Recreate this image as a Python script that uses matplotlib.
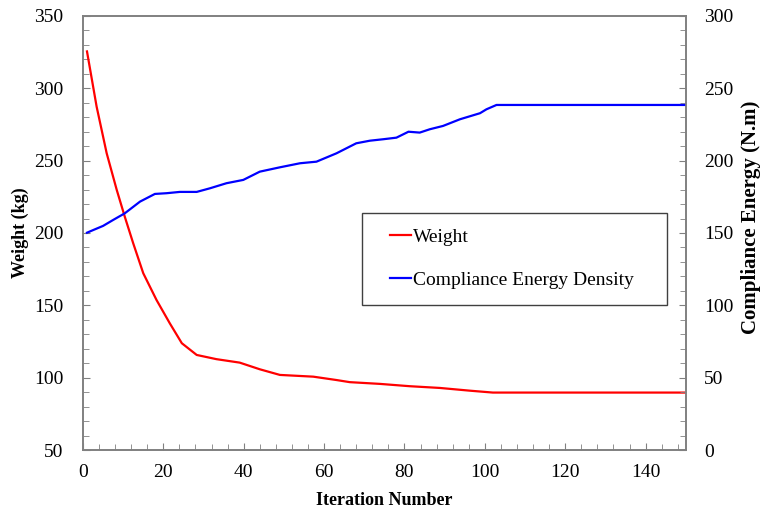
import matplotlib
matplotlib.use("Agg")
import matplotlib.pyplot as plt
from matplotlib.patches import Rectangle

# weight history (left axis, kg)
weight_iter = [1, 3.4, 5.9, 8.4, 10.4, 12.5, 15, 18.3, 21.6, 24.6, 28.3, 33.2, 39, 44, 49,
               57.3, 63, 66.4, 73.9, 81.3, 88.8, 96.3, 102, 150]
weight_kg = [325.5, 287.3, 255.1, 229.8, 211.3, 192.9, 172.2, 153.7, 137.6, 123.8, 115.7,
             112.8, 110.4, 105.8, 101.9, 100.7, 98.4, 96.9, 95.7, 94.1, 92.9, 91, 89.7, 89.7]

# compliance energy history (right axis, N.m)
energy_iter = [1, 2.6, 5, 7.5, 10.4, 14.2, 17.9, 20.8, 24.1, 28.3, 31.6, 35.7, 39.9,
               44, 49, 54, 58.1, 63.1, 68, 71.4, 74.7, 78, 81, 83.8, 86.3, 89.6,
               93.8, 98.8, 100.4, 102.9, 150]
energy_nm = [150.2, 152.1, 154.9, 159, 163.6, 171.7, 177, 177.5, 178.4, 178.4, 180.9,
             184.4, 186.7, 192.4, 195.4, 198.2, 199.3, 205.1, 212, 213.8, 214.8, 215.9,
             220, 219.4, 221.7, 224, 228.6, 232.8, 235.5, 238.5, 238.5]

plt.rcParams['font.family'] = ['Liberation Serif', 'DejaVu Serif']
gray = '#808080'

fig = plt.figure(figsize=(7.64, 5.14), dpi=100)
ax = fig.add_axes([0.1086, 0.1245, 0.789, 0.8444])
ax2 = ax.twinx()

l1, = ax.plot(weight_iter, weight_kg, color='#ff0000', lw=1.6)
l2, = ax2.plot(energy_iter, energy_nm, color='#0000ff', lw=1.6)

ax.set_xlim(0, 150)
ax.set_ylim(50, 350)
ax2.set_ylim(0, 300)
ax.set_xticks(range(0, 141, 20))
ax.set_xticks(range(0, 151, 4), minor=True)
ax.set_yticks(range(50, 351, 50))
ax.set_yticks(range(50, 351, 10), minor=True)
ax2.set_yticks(range(0, 301, 50))
ax2.set_yticks(range(0, 301, 10), minor=True)

for a in (ax, ax2):
    for s in a.spines.values():
        s.set_color(gray)
        s.set_linewidth(1.2)
    a.tick_params(which='both', direction='in', color=gray, labelsize=14)
    a.tick_params(which='major', length=5)
    a.tick_params(which='minor', length=4)
ax.tick_params(which='both', top=False)
ax.tick_params(axis='x', pad=10)
ax.tick_params(axis='y', pad=14)
ax2.tick_params(axis='y', pad=13)

ax.set_xlabel("Iteration Number", fontsize=13, fontweight='bold', labelpad=8)
ax.set_ylabel("Weight (kg)", fontsize=13, fontweight='bold', labelpad=4)
ax2.set_ylabel("Compliance Energy (N.m)", fontsize=15, fontweight='bold')
ax2.yaxis.set_label_coords(1.109, 0.537)
ax2.yaxis.label.set_va('center')

# legend frame drawn separately so the padding matches
fig.patches.append(Rectangle((0.4738, 0.4066), 0.3992, 0.179, transform=fig.transFigure,
                             fill=False, edgecolor='#404040', lw=1.0))
fig.legend([l1, l2], ["Weight", "Compliance Energy Density"], loc='center left',
           bbox_to_anchor=(0.5105, 0.4974), frameon=False, fontsize=14,
           handlelength=1.1, handletextpad=0.1, labelspacing=1.3,
           borderpad=0, borderaxespad=0)

fig.savefig("out.png", dpi=100)
